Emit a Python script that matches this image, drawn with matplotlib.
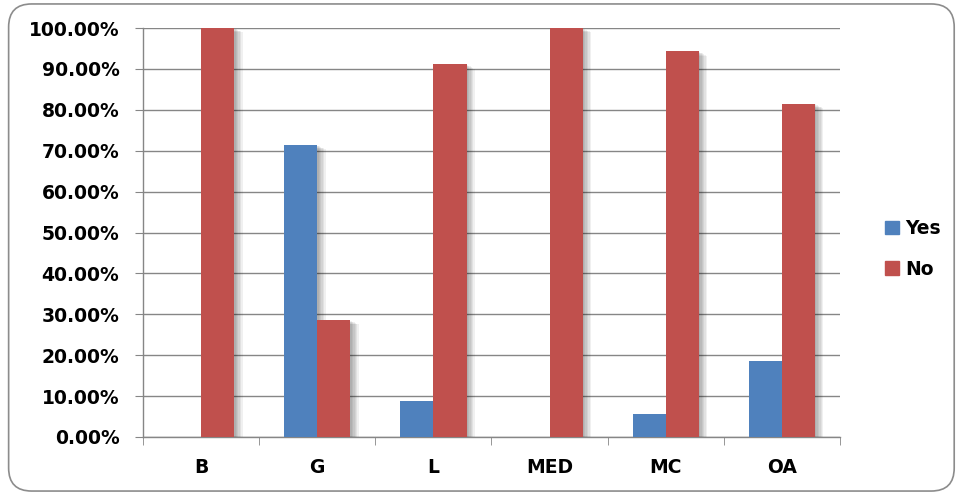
import numpy as np
import matplotlib.pyplot as plt
from matplotlib.patches import FancyBboxPatch, Patch
from matplotlib.ticker import FuncFormatter, FixedLocator
import matplotlib.patheffects as pe

# Respuestas por grupo (porcentajes)
grupos = ['B', 'G', 'L', 'MED', 'MC', 'OA']
si = [0.0, 71.43, 8.89, 0.0, 5.71, 18.52]
no = [100.0, 28.57, 91.11, 100.0, 94.29, 81.48]

azul = '#4F81BD'
rojo = '#C0504D'

plt.rcParams['font.family'] = 'DejaVu Sans'
plt.rcParams['font.weight'] = 'bold'

fig = plt.figure(figsize=(9.59, 4.95), dpi=100)

# Marco redondeado alrededor del gráfico
marco = FancyBboxPatch((0.009, 0.008), 0.986, 0.984, boxstyle='round,pad=0,rounding_size=0.024',
                       transform=fig.transFigure, facecolor='none', edgecolor='#8c8c8c',
                       linewidth=1.2, mutation_aspect=959 / 495, zorder=-1)
fig.patches.append(marco)

ax = fig.add_axes([0.1491, 0.1172, 0.7268, 0.8262])
ax.set_facecolor('none')

x = np.arange(len(grupos))
ancho = 0.285

# Sombra suave de las barras
sombra = [pe.SimplePatchShadow(offset=(d, -d * 0.5), shadow_rgbFace='black', alpha=0.06)
          for d in (1, 2, 3, 4, 5, 6)] + [pe.Normal()]

b1 = ax.bar(x - ancho / 2, si, ancho, color=azul, zorder=3)
b2 = ax.bar(x + ancho / 2, no, ancho, color=rojo, zorder=3)
for b in list(b1) + list(b2):
    if b.get_height() > 0:
        b.set_path_effects(sombra)

ax.set_ylim(0, 100)
ax.set_xlim(-0.5, len(grupos) - 0.5)
ax.set_yticks(np.arange(0, 101, 10))
ax.yaxis.set_major_formatter(FuncFormatter(lambda v, p: f'{v:.2f}%'))
ax.grid(axis='y', color='#868686', linewidth=1.0, zorder=0)

ax.set_xticks(x)
ax.set_xticklabels(grupos)
ax.xaxis.set_minor_locator(FixedLocator(np.arange(-0.5, len(grupos), 1.0)))
ax.tick_params(axis='x', which='major', length=0, pad=15, labelsize=13.5)
ax.tick_params(axis='x', which='minor', length=6, color='#868686', direction='out')
ax.tick_params(axis='y', length=6, color='#868686', labelsize=13.5, pad=11)

for lado in ['top', 'right']:
    ax.spines[lado].set_visible(False)
for lado in ['left', 'bottom']:
    ax.spines[lado].set_color('#868686')
    ax.spines[lado].set_linewidth(1.0)

# Leyenda sin sombra
handles = [Patch(color=azul, label='Yes'), Patch(color=rojo, label='No')]
ax.legend(handles=handles, loc='center left', bbox_to_anchor=(1.04, 0.46), frameon=False,
          handlelength=0.75, handleheight=0.75, handletextpad=0.35,
          labelspacing=1.15, prop={'size': 13.5, 'weight': 'bold'})

plt.savefig('out.png', dpi=100)
